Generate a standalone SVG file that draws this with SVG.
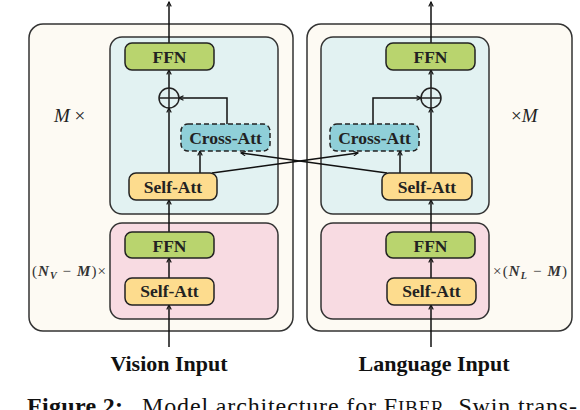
<svg xmlns="http://www.w3.org/2000/svg" width="580" height="410" viewBox="0 0 580 410">
<defs>
<style>
.outer{fill:#fdfaf3;stroke:#333;stroke-width:1.5}
.blue{fill:#e2f2f2;stroke:#333;stroke-width:1.5}
.pink{fill:#f8dbe2;stroke:#333;stroke-width:1.5}
.ffn{fill:#b9d46e;stroke:#222;stroke-width:1.5}
.self{fill:#fddc8e;stroke:#222;stroke-width:1.5}
.cross{fill:#8fcfd8;stroke:#222;stroke-width:1.5;stroke-dasharray:5,3}
.plus{fill:none;stroke:#222;stroke-width:1.5}
.lbl{font-family:"Liberation Serif",serif;font-weight:bold;font-size:17.5px;fill:#222;text-anchor:middle}
.inp{font-family:"Liberation Serif",serif;font-weight:bold;font-size:22px;fill:#111;text-anchor:middle}
.math{font-family:"Liberation Serif",serif;font-size:19px;fill:#222}
.smath{font-family:"Liberation Serif",serif;font-size:15px;fill:#333}
.cap{font-family:"Liberation Serif",serif;font-size:24px;fill:#111}
.con path,.con line{fill:none;stroke:#111;stroke-width:1.5;marker-end:url(#ah)}
</style>
<marker id="ah" viewBox="0 0 8 8" refX="7" refY="4" markerWidth="6" markerHeight="6" markerUnits="userSpaceOnUse" orient="auto">
<path d="M1,1 L7,4 L1,7" fill="none" stroke="#111" stroke-width="1.5"/>
</marker>
</defs>

<g id="vision-outer"><rect class="outer" x="29" y="24" width="264" height="307" rx="14"/></g>
<g id="language-outer"><rect class="outer" x="307" y="24" width="265" height="307" rx="14"/></g>
<g id="vision-fusion"><rect class="blue" x="110" y="37" width="168" height="177" rx="12"/></g>
<g id="vision-uni"><rect class="pink" x="110" y="223" width="168" height="96" rx="12"/></g>
<g id="language-fusion"><rect class="blue" x="321" y="37" width="168" height="177" rx="12"/></g>
<g id="language-uni"><rect class="pink" x="321" y="223" width="168" height="96" rx="12"/></g>

<g class="con" id="connectors">
<line x1="169" y1="347" x2="169" y2="305"/>
<line x1="169" y1="278" x2="169" y2="258"/>
<line x1="169" y1="232" x2="169" y2="200"/>
<line x1="169" y1="173" x2="169" y2="108"/>
<line x1="200" y1="173" x2="200" y2="151"/>
<path d="M227,124 L227,98 L179,98"/>
<line x1="169" y1="88" x2="169" y2="70"/>
<line x1="169" y1="43" x2="169" y2="2"/>
<line x1="431" y1="347" x2="431" y2="305"/>
<line x1="431" y1="278" x2="431" y2="258"/>
<line x1="431" y1="232" x2="431" y2="200"/>
<line x1="431" y1="173" x2="431" y2="108"/>
<line x1="400" y1="173" x2="400" y2="151"/>
<path d="M373,124 L373,98 L421,98"/>
<line x1="431" y1="88" x2="431" y2="70"/>
<line x1="431" y1="43" x2="431" y2="2"/>
<line x1="212" y1="173" x2="358" y2="153"/>
<line x1="387" y1="173" x2="241" y2="153"/>
</g>

<g id="v-ffn"><rect class="ffn" x="125" y="43" width="89" height="27" rx="7"/><text class="lbl" x="169.5" y="63">FFN</text></g>
<g id="v-plus"><circle class="plus" cx="169" cy="98" r="10"/><path class="plus" d="M159,98 H179 M169,88 V108"/></g>
<g id="v-cross"><rect class="cross" x="181" y="124" width="89" height="27" rx="7"/><text class="lbl" x="225.5" y="144">Cross-Att</text></g>
<g id="v-self"><rect class="self" x="129" y="173" width="88" height="27" rx="7"/><text class="lbl" x="173" y="193">Self-Att</text></g>
<g id="v-ffn2"><rect class="ffn" x="125" y="232" width="89" height="26" rx="7"/><text class="lbl" x="169.5" y="252">FFN</text></g>
<g id="v-self2"><rect class="self" x="125" y="278" width="89" height="27" rx="7"/><text class="lbl" x="169.5" y="297">Self-Att</text></g>

<g id="l-ffn"><rect class="ffn" x="386" y="43" width="89" height="27" rx="7"/><text class="lbl" x="430.5" y="63">FFN</text></g>
<g id="l-plus"><circle class="plus" cx="431" cy="98" r="10"/><path class="plus" d="M421,98 H441 M431,88 V108"/></g>
<g id="l-cross"><rect class="cross" x="330" y="124" width="89" height="27" rx="7"/><text class="lbl" x="374.5" y="144">Cross-Att</text></g>
<g id="l-self"><rect class="self" x="382" y="173" width="90" height="27" rx="7"/><text class="lbl" x="427" y="193">Self-Att</text></g>
<g id="l-ffn2"><rect class="ffn" x="386" y="232" width="89" height="26" rx="7"/><text class="lbl" x="430.5" y="252">FFN</text></g>
<g id="l-self2"><rect class="self" x="387" y="278" width="89" height="27" rx="7"/><text class="lbl" x="431.5" y="297">Self-Att</text></g>

<g id="labels">
<text class="math" x="54" y="122"><tspan font-style="italic">M</tspan> ×</text>
<text class="math" x="511" y="122">×<tspan font-style="italic">M</tspan></text>
<text class="smath" x="32" y="276" textLength="74" lengthAdjust="spacing">(<tspan font-style="italic" font-weight="bold">N</tspan><tspan font-style="italic" font-weight="bold" font-size="10" dy="3">V</tspan><tspan dy="-3"> − </tspan><tspan font-style="italic" font-weight="bold">M</tspan>)×</text>
<text class="smath" x="493" y="276" textLength="74" lengthAdjust="spacing">×(<tspan font-style="italic" font-weight="bold">N</tspan><tspan font-style="italic" font-weight="bold" font-size="10" dy="3">L</tspan><tspan dy="-3"> − </tspan><tspan font-style="italic" font-weight="bold">M</tspan>)</text>
<text class="inp" x="169" y="371">Vision Input</text>
<text class="inp" x="434" y="371">Language Input</text>
<text class="cap" x="27" y="414" font-weight="bold" textLength="96" lengthAdjust="spacing">Figure 2:</text>
<text class="cap" x="142" y="414" textLength="435" lengthAdjust="spacing">Model architecture for F<tspan font-size="19">IBER</tspan>. Swin trans-</text>
</g>
</svg>
